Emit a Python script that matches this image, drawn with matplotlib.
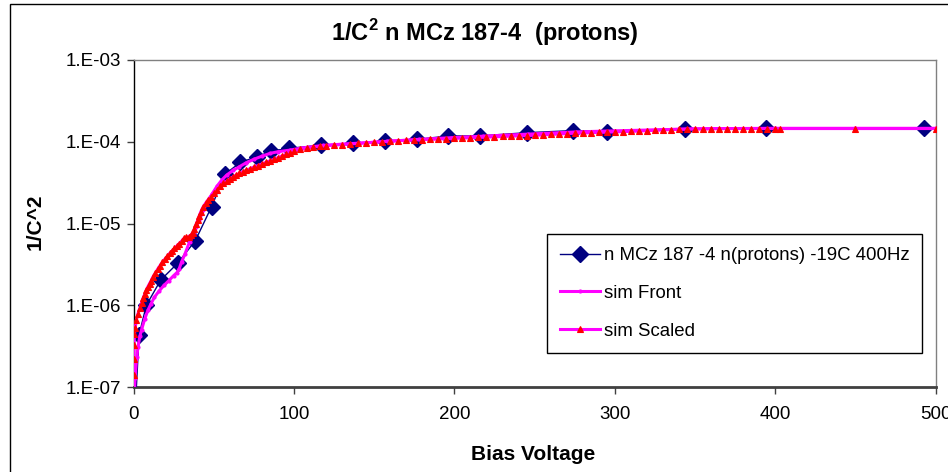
import matplotlib
matplotlib.use("Agg")
import matplotlib.pyplot as plt
from matplotlib.patches import Rectangle
from matplotlib.ticker import FixedLocator, NullLocator

plt.rcParams['font.family'] = ['Liberation Sans', 'DejaVu Sans']
plt.rcParams['mathtext.fontset'] = 'custom'
plt.rcParams['mathtext.rm'] = 'Liberation Sans'
plt.rcParams['mathtext.bf'] = 'Liberation Sans:bold'

# ---- data ----
meas_v = [1, 3.5, 8, 17, 27.5, 38.5, 48.7, 57, 66.6, 77, 86, 97, 117, 137, 157, 177,
          196, 216, 245, 274, 295, 344, 394, 493]
meas_c = [5e-8, 4.35e-7, 1.0e-6, 2.04e-6, 3.26e-6, 6.16e-6, 1.61e-5, 4.0e-5, 5.6e-5,
          6.56e-5, 7.7e-5, 8.3e-5, 9.1e-5, 9.57e-5, 1.02e-4, 1.07e-4, 1.175e-4, 1.18e-4,
          1.29e-4, 1.37e-4, 1.33e-4, 1.42e-4, 1.46e-4, 1.46e-4]

front_v = [0.5, 1, 2, 2.8, 4, 5, 7, 9, 11, 13, 16, 19, 22, 25, 27, 28.5, 30, 32, 35,
           37.5, 39, 41, 43.5, 46, 49, 52, 55, 58, 62, 66, 70, 75, 80, 85, 90, 97.5,
           105, 118, 130, 140, 158, 178, 198, 218, 246, 276, 300, 320, 345, 370, 400,
           450, 500]
front_c = [8e-8, 1.3e-7, 2.3e-7, 3.1e-7, 4.2e-7, 5e-7, 6.8e-7, 8.7e-7, 1.05e-6, 1.25e-6,
           1.5e-6, 1.75e-6, 2.0e-6, 2.3e-6, 2.5e-6, 2.8e-6, 3.4e-6, 4.2e-6, 6.0e-6,
           7.5e-6, 9.0e-6, 1.1e-5, 1.45e-5, 1.85e-5, 2.3e-5, 2.85e-5, 3.4e-5, 3.9e-5,
           4.45e-5, 4.95e-5, 5.5e-5, 6.1e-5, 6.65e-5, 7.2e-5, 7.55e-5, 7.9e-5, 8.4e-5,
           9.0e-5, 9.35e-5, 9.6e-5, 1.01e-4, 1.07e-4, 1.12e-4, 1.17e-4, 1.24e-4,
           1.32e-4, 1.36e-4, 1.39e-4, 1.43e-4, 1.45e-4, 1.46e-4, 1.46e-4, 1.46e-4]

scaled_v = [0, 0.1, 0.2, 0.35, 0.6, 1.0, 1.8, 2.8, 3.9, 5, 6, 7, 8, 9, 10, 11, 12, 13.5,
            15, 16.5, 18, 19.5, 21, 22.5, 24, 25.5, 27, 28.5, 30, 31.5, 33, 34.5, 36, 37,
            38, 39, 40, 41, 42, 43.5, 45, 46.5, 48, 50, 52, 54, 56, 58, 60, 62, 64, 66,
            68, 70, 72.5, 75, 77.5, 80, 82.5, 85, 87.5, 90, 92.5, 95, 97.5, 100, 104,
            108, 112, 116, 120, 125, 130, 135, 140, 145, 150, 155, 160, 165, 170, 175,
            180, 185, 190, 195, 200, 205, 210, 215, 220, 225, 230, 235, 240, 245, 250,
            255, 260, 265, 270, 275, 280, 285, 290, 295, 300, 305, 310, 315, 320, 325,
            330, 335, 340, 345, 350, 355, 360, 365, 370, 375, 380, 385, 390, 395, 400,
            403, 450, 500]
scaled_c = [8e-8, 1.4e-7, 2.2e-7, 3.3e-7, 4.4e-7, 5.2e-7, 6.6e-7, 7.9e-7, 9.2e-7, 1.07e-6,
            1.22e-6, 1.37e-6, 1.53e-6, 1.69e-6, 1.84e-6, 2.0e-6, 2.2e-6, 2.45e-6, 2.75e-6,
            3.05e-6, 3.35e-6, 3.65e-6, 3.95e-6, 4.3e-6, 4.6e-6, 4.95e-6, 5.3e-6, 5.65e-6,
            6.1e-6, 6.6e-6, 6.8e-6, 6.9e-6, 7.3e-6, 7.6e-6, 8.6e-6, 9.8e-6, 1.1e-5,
            1.25e-5, 1.4e-5, 1.6e-5, 1.78e-5, 1.95e-5, 2.12e-5, 2.38e-5, 2.6e-5, 2.85e-5,
            3.1e-5, 3.3e-5, 3.5e-5, 3.72e-5, 3.92e-5, 4.1e-5, 4.28e-5, 4.45e-5, 4.68e-5,
            4.9e-5, 5.12e-5, 5.35e-5, 5.6e-5, 5.85e-5, 6.1e-5, 6.4e-5, 6.7e-5, 7.0e-5,
            7.35e-5, 7.65e-5, 8.05e-5, 8.35e-5, 8.6e-5, 8.8e-5, 8.95e-5, 9.1e-5, 9.25e-5,
            9.4e-5, 9.55e-5, 9.7e-5, 9.85e-5, 1.0e-4, 1.02e-4, 1.03e-4, 1.04e-4, 1.05e-4,
            1.06e-4, 1.07e-4, 1.08e-4, 1.09e-4, 1.10e-4, 1.11e-4, 1.12e-4, 1.13e-4,
            1.14e-4, 1.15e-4, 1.16e-4, 1.17e-4, 1.18e-4, 1.19e-4, 1.20e-4, 1.21e-4,
            1.23e-4, 1.24e-4, 1.26e-4, 1.27e-4, 1.28e-4, 1.29e-4, 1.30e-4, 1.31e-4,
            1.32e-4, 1.33e-4, 1.34e-4, 1.35e-4, 1.37e-4, 1.38e-4, 1.40e-4, 1.41e-4,
            1.42e-4, 1.43e-4, 1.44e-4, 1.44e-4, 1.45e-4, 1.45e-4, 1.45e-4, 1.45e-4,
            1.45e-4, 1.45e-4, 1.45e-4, 1.45e-4, 1.45e-4, 1.45e-4, 1.45e-4, 1.45e-4]

x_ticks = [0, 100, 200, 300, 400, 500]
y_ticks = [1e-7, 1e-6, 1e-5, 1e-4, 1e-3]
y_tick_labels = ["1.E-07", "1.E-06", "1.E-05", "1.E-04", "1.E-03"]

labels = ["n MCz 187 -4 n(protons) -19C 400Hz", "sim Front", "sim Scaled"]
title = r"1/C$^{\mathbf{2}}$ n MCz 187-4  (protons)"

# ---- figure ----
W, H = 948, 472
fig = plt.figure(figsize=(W / 100, H / 100), dpi=100)
fig.patch.set_facecolor("white")

# outer chart border (extends beyond right/bottom edges)
fig.patches.append(Rectangle((10 / W, -0.1), 1.2, 1 - 4 / H + 0.1,
                             transform=fig.transFigure, fill=False,
                             edgecolor="black", linewidth=1.0))

L, R, T, B = 133.5, 935.7, 60, 387
ax = fig.add_axes([L / W, 1 - B / H, (R - L) / W, (B - T) / H])
ax.set_yscale("log")
ax.set_xlim(0, 500)
ax.set_ylim(1e-7, 1e-3)

ax.plot(meas_v, meas_c, color="#000080", linewidth=1.0, marker="D",
        markersize=8, markerfacecolor="#000080", markeredgecolor="#000080",
        label=labels[0], zorder=3)
ax.plot(front_v, front_c, color="#FF00FF", linewidth=2.2, marker="o",
        markersize=2.0, markerfacecolor="#FF00FF", markeredgecolor="#FF00FF",
        label=labels[1], zorder=4)
ax.plot(scaled_v, scaled_c, color="#FF00FF", linewidth=2.2, marker="^",
        markersize=3.8, markerfacecolor="#FF0000", markeredgecolor="#FF0000",
        markeredgewidth=0.8, label=labels[2], zorder=5)

# spines
ax.spines["top"].set_color("#808080")
ax.spines["right"].set_color("#808080")
ax.spines["top"].set_linewidth(1.0)
ax.spines["right"].set_linewidth(1.0)
ax.spines["left"].set_color("black")
ax.spines["left"].set_linewidth(1.0)
ax.spines["bottom"].set_color("#404040")
ax.spines["bottom"].set_linewidth(2.0)

ax.xaxis.set_major_locator(FixedLocator(x_ticks))
ax.yaxis.set_major_locator(FixedLocator(y_ticks))
ax.yaxis.set_minor_locator(NullLocator())
ax.set_yticklabels(y_tick_labels)
ax.tick_params(axis="both", which="major", direction="out", length=5,
               width=1.0, color="#404040", labelsize=13.5, labelcolor="black")
ax.tick_params(axis="x", pad=9)
ax.tick_params(axis="y", pad=4)

fig.text(485 / W, 1 - 33 / H, title, ha="center", va="center",
         fontsize=17, fontweight="bold")
fig.text(533 / W, 1 - 454 / H, "Bias Voltage", ha="center", va="center",
         fontsize=15, fontweight="bold")
fig.text(35 / W, 1 - 222 / H, "1/C^2", ha="center", va="center",
         rotation=90, fontsize=15, fontweight="bold")

leg = ax.legend(loc="upper left", bbox_to_anchor=((547 - L) / (R - L), (B - 234) / (B - T)),
                borderaxespad=0, fontsize=13.4, frameon=True, fancybox=False,
                edgecolor="black", framealpha=1, borderpad=0.7, labelspacing=1.12,
                handlelength=2.15, handletextpad=0.2, markerscale=1.0)
leg.get_frame().set_linewidth(1.0)

fig.savefig("out.png", dpi=100, facecolor="white")
